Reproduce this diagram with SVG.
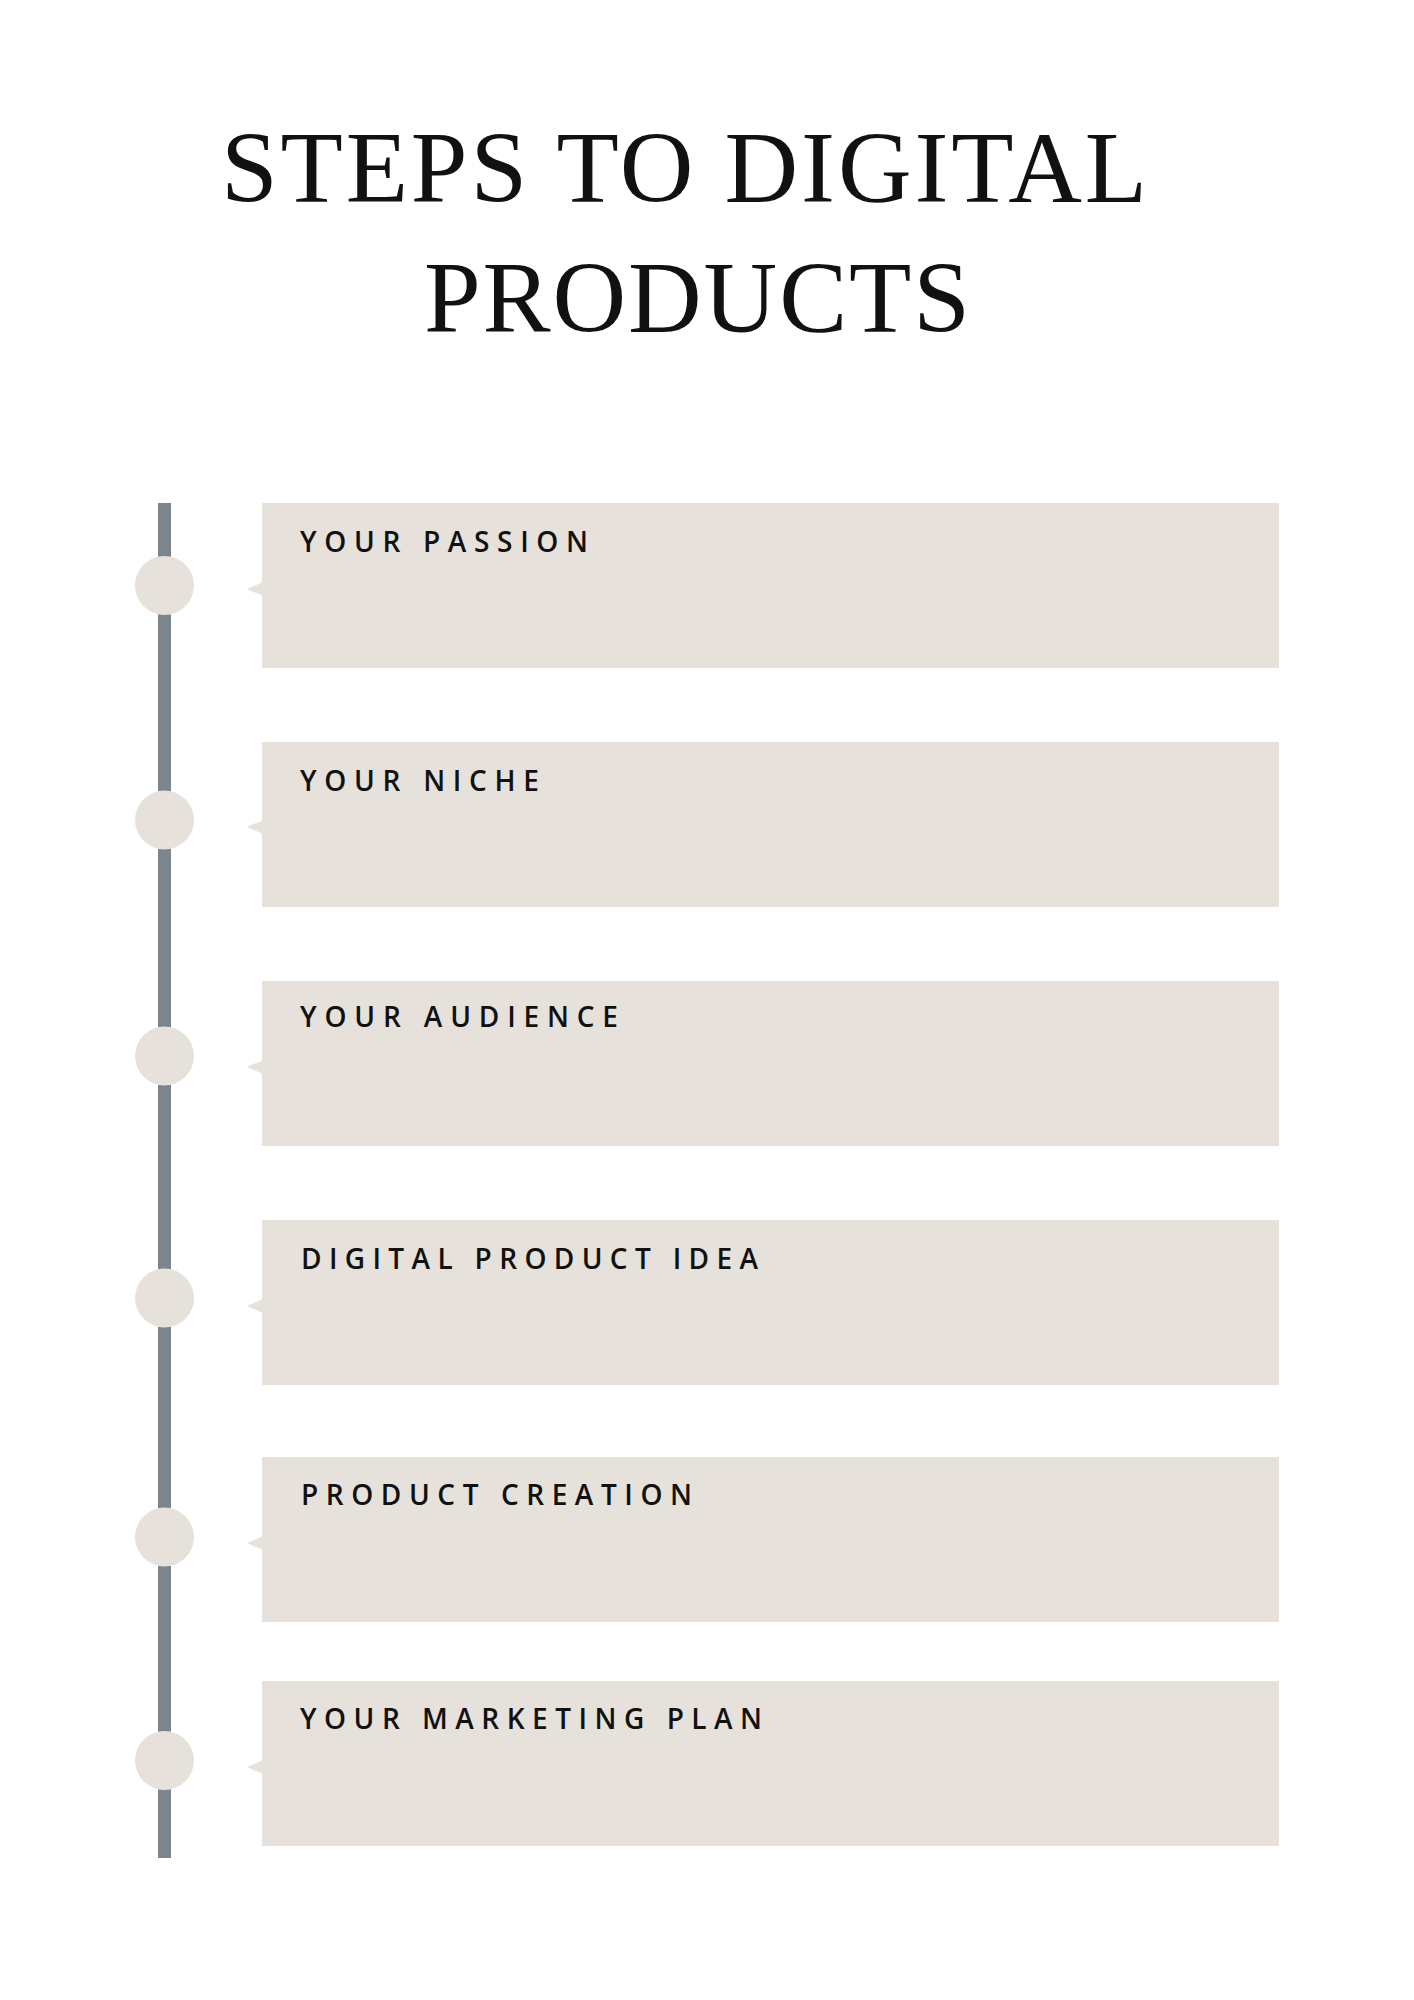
<svg xmlns="http://www.w3.org/2000/svg" width="1414" height="2000" viewBox="0 0 1414 2000">
<style>
.title{font-family:"Liberation Serif","DejaVu Serif",serif;font-size:102px;fill:#111;}
.box{fill:#e6e2db;}
.dot{fill:#e6e2db;}
.lbl{font-family:"Open Sans","Liberation Sans",sans-serif;font-size:28px;font-weight:600;fill:#111;}
</style>
<rect width="1414" height="2000" fill="#ffffff"/>
<g id="title">
<text class="title" x="221" y="202" textLength="926" lengthAdjust="spacing">STEPS TO DIGITAL</text>
<text class="title" x="424" y="332" textLength="546" lengthAdjust="spacing">PRODUCTS</text>
</g>
<g id="connectors">
<rect x="158" y="503" width="13" height="1355" fill="#7a858e"/>
</g>
<g id="step1">
<circle class="dot" cx="164.5" cy="585.5" r="29.5"/>
<polygon class="box" points="247,589 263,582 263,596"/>
<rect class="box" x="262" y="503" width="1017" height="165"/>
<text class="lbl" x="300" y="552" textLength="288" lengthAdjust="spacing">YOUR PASSION</text>
</g>
<g id="step2">
<circle class="dot" cx="164.5" cy="820" r="29.5"/>
<polygon class="box" points="247,827 263,820 263,834"/>
<rect class="box" x="262" y="742" width="1017" height="165"/>
<text class="lbl" x="300" y="791" textLength="239" lengthAdjust="spacing">YOUR NICHE</text>
</g>
<g id="step3">
<circle class="dot" cx="164.5" cy="1056" r="29.5"/>
<polygon class="box" points="247,1067 263,1060 263,1074"/>
<rect class="box" x="262" y="981" width="1017" height="165"/>
<text class="lbl" x="300" y="1027" textLength="318" lengthAdjust="spacing">YOUR AUDIENCE</text>
</g>
<g id="step4">
<circle class="dot" cx="164.5" cy="1298" r="29.5"/>
<polygon class="box" points="247,1306 263,1299 263,1313"/>
<rect class="box" x="262" y="1220" width="1017" height="165"/>
<text class="lbl" x="301" y="1269" textLength="457" lengthAdjust="spacing">DIGITAL PRODUCT IDEA</text>
</g>
<g id="step5">
<circle class="dot" cx="164.5" cy="1537" r="29.5"/>
<polygon class="box" points="247,1543 263,1536 263,1550"/>
<rect class="box" x="262" y="1457" width="1017" height="165"/>
<text class="lbl" x="301" y="1505" textLength="391" lengthAdjust="spacing">PRODUCT CREATION</text>
</g>
<g id="step6">
<circle class="dot" cx="164.5" cy="1760.5" r="29.5"/>
<polygon class="box" points="247,1767 263,1760 263,1774"/>
<rect class="box" x="262" y="1681" width="1017" height="165"/>
<text class="lbl" x="300" y="1729" textLength="462" lengthAdjust="spacing">YOUR MARKETING PLAN</text>
</g>
</svg>
